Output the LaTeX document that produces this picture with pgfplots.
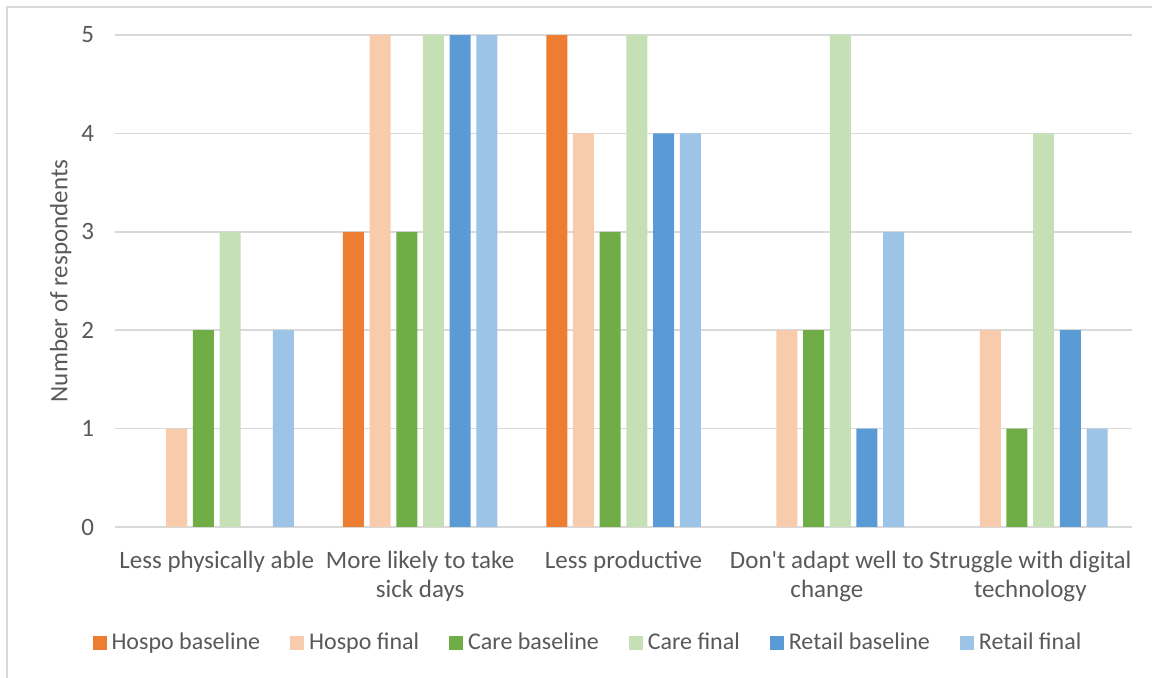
\documentclass[border=0pt]{standalone}
\usepackage{fontspec}
\setmainfont[Ligatures=TeXOff]{Carlito}
\usepackage{pgfplots}
\usepackage{pgfplotstable}
\pgfplotsset{compat=1.18}
\definecolor{hb}{HTML}{ED7D31}
\definecolor{hf}{HTML}{F8CBAD}
\definecolor{cb}{HTML}{70AD47}
\definecolor{cf}{HTML}{C5E0B4}
\definecolor{rb}{HTML}{5B9BD5}
\definecolor{rf}{HTML}{9DC3E6}
\definecolor{txt}{HTML}{595959}
\definecolor{gridc}{HTML}{D9D9D9}
\pgfplotstableread{
x hb hf cb cf rb rf
0 0 1 2 3 0 2
1 3 5 3 5 5 5
2 5 4 3 5 4 4
3 0 2 2 5 1 3
4 0 2 1 4 2 1
}\datatable
\begin{document}
\begin{tikzpicture}
\useasboundingbox (0,0) rectangle (576bp,339bp);
\draw[color=gridc, line width=0.8bp] (3.4bp,0) -- (3.4bp,335.6bp) -- (576bp,335.6bp);
\begin{axis}[
  at={(57.5bp,75.5bp)}, anchor=south west,
  scale only axis,
  width=508.5bp, height=246bp,
  ybar=2.85bp, bar width=10.5bp,
  xmin=-0.5, xmax=4.5, ymin=0, ymax=5,
  xtick={0,1,2,3,4},
  xticklabels={Less physically able, {More likely to take\\sick days}, Less productive, {Don't adapt well to\\change}, {Struggle with digital\\technology}},
  ytick={0,1,2,3,4,5},
  axis line style={draw=none},
  tick style={draw=none},
  ymajorgrids, grid style={color=gridc, line width=0.8bp},
  font=\fontsize{12.5bp}{14.5bp}\selectfont,
  tick label style={color=txt},
  xticklabel style={align=center, yshift=-4.5bp},
  yticklabel style={/pgf/number format/assume math mode=true, xshift=-7bp},
  ylabel={Number of respondents},
  ylabel style={color=txt, at={(axis description cs:-0.036,0.5)}, anchor=south},
  legend columns=6,
  legend style={draw=none, at={(0.466,-0.236)}, anchor=center, text=txt,
    /tikz/every even column/.append style={column sep=13bp},
    /tikz/every odd column/.append style={column sep=0.5bp},
    font=\fontsize{12bp}{14bp}\selectfont},
  legend image code/.code={\fill[#1] (0bp,-3.5bp) rectangle (7bp,3.5bp);},
]
\addplot[fill=hb, draw=none] table[x=x, y=hb] {\datatable};
\addplot[fill=hf, draw=none] table[x=x, y=hf] {\datatable};
\addplot[fill=cb, draw=none] table[x=x, y=cb] {\datatable};
\addplot[fill=cf, draw=none] table[x=x, y=cf] {\datatable};
\addplot[fill=rb, draw=none] table[x=x, y=rb] {\datatable};
\addplot[fill=rf, draw=none] table[x=x, y=rf] {\datatable};
\legend{Hospo baseline, Hospo final, Care baseline, Care final, Retail baseline, Retail final}
\end{axis}
\end{tikzpicture}
\end{document}
